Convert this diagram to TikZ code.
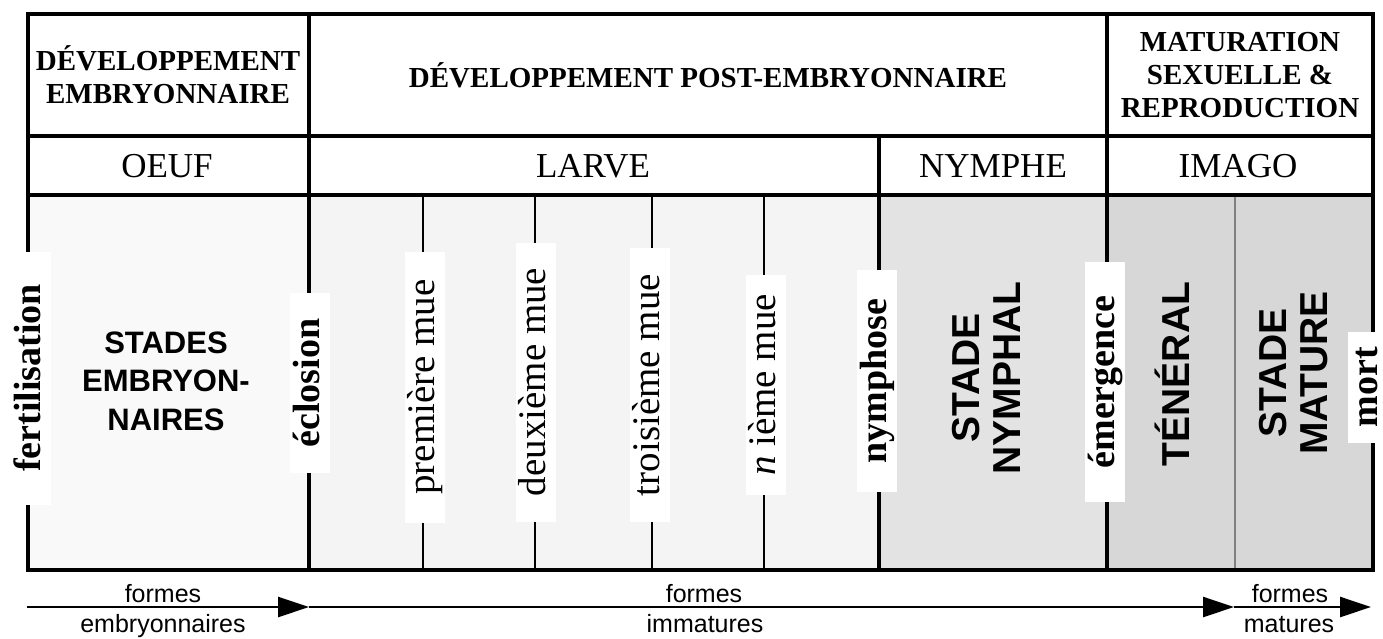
\documentclass[tikz,border=0pt]{standalone}
\usepackage{fontspec}
\setmainfont{Liberation Serif}
\setsansfont{Liberation Sans}
\usepackage{tikz}
\usetikzlibrary{arrows.meta}

\definecolor{oeufgray}{gray}{0.975}
\definecolor{larvegray}{gray}{0.955}
\definecolor{nymphgray}{gray}{0.89}
\definecolor{imagogray}{gray}{0.845}

\tikzset{
  tblline/.style={line width=4pt},
  moltline/.style={line width=2pt},
  header/.style={align=center, font=\bfseries\fontsize{29}{33}\selectfont},
  phasename/.style={font=\fontsize{35}{40}\selectfont},
  stagename/.style={align=center, font=\sffamily\bfseries\fontsize{39}{41}\selectfont},
  event/.style={fill=white, rotate=90, inner xsep=0pt, inner ysep=2pt, text height=27pt, text depth=9pt, font=\bfseries\fontsize{38}{40}\selectfont},
  moult/.style={event, font=\fontsize{39}{40}\selectfont},
  formes/.style={anchor=base, font=\sffamily\fontsize{25}{30}\selectfont},
  timeline/.style={line width=2.5pt, -{Triangle[length=31pt,width=20pt]}}
}

\begin{document}
\begin{tikzpicture}[x=1pt,y=-1pt]
    \useasboundingbox (0,0) rectangle (1383,638);
    \fill [oeufgray] (28,195) rectangle (309,570);
    \fill [larvegray] (309,195) rectangle (879,570);
    \fill [nymphgray] (879,195) rectangle (1107,570);
    \fill [imagogray] (1107,195) rectangle (1373,570);
    \draw [gray, line width=1.2pt] (1235,195) -- (1235,570);
    \foreach \x in {423,535,652,764}
        \draw [moltline] (\x,195) -- (\x,570);
    \draw [tblline] (28,14) rectangle (1373,570);
    \draw [tblline] (28,136) -- (1373,136);
    \draw [tblline] (28,195) -- (1373,195);
    \draw [tblline] (309,14) -- (309,570);
    \draw [tblline] (879,136) -- (879,570);
    \draw [tblline] (1107,14) -- (1107,570);

    \node [header] (embryo) at (168,75) {DÉVELOPPEMENT\\EMBRYONNAIRE};
    \node [header] (postembryo) at (708,75) {DÉVELOPPEMENT POST-EMBRYONNAIRE};
    \node [header] (maturation) at (1240,75) {MATURATION\\SEXUELLE \&\\REPRODUCTION};

    \node [phasename] (oeuf) at (167,166) {OEUF};
    \node [phasename] (larve) at (593,166) {LARVE};
    \node [phasename] (nymphe) at (993,166) {NYMPHE};
    \node [phasename] (imago) at (1238,166) {IMAGO};

    \node [stagename, font=\sffamily\bfseries\fontsize{31}{38.5}\selectfont] (embstages) at (166,381) {STADES\\EMBRYON-\\NAIRES};
    \node [stagename, rotate=90] (nymphal) at (986,378) {STADE\\NYMPHAL};
    \node [stagename, rotate=90] (teneral) at (1172,374) {TÉNÉRAL};
    \node [stagename, rotate=90] (mature) at (1294,373) {STADE\\MATURE};

    \node [event, minimum width=253pt] (fertil) at (31,378) {fertilisation};
    \node [event, minimum width=180pt] (eclos) at (310,383) {éclosion};
    \node [moult, minimum width=271pt] (mue1) at (425,387) {première mue};
    \node [moult, minimum width=279pt] (mue2) at (536,382) {deuxième mue};
    \node [moult, minimum width=274pt] (mue3) at (650,385) {troisième mue};
    \node [moult, minimum width=220pt] (muen) at (766,385) {\textit{n} ième mue};
    \node [event, minimum width=222pt] (nymphose) at (877,381) {nymphose};
    \node [event, minimum width=240pt] (emerg) at (1105,382) {émergence};
    \node [event, minimum width=111pt] (mort) at (1368,387) {mort};

    \coordinate (t0) at (27,607);
    \coordinate (t1) at (309,607);
    \coordinate (t2) at (1234,607);
    \coordinate (t3) at (1371,607);
    \draw [timeline] (t0) -- (t1);
    \draw [timeline] (t1) -- (t2);
    \draw [timeline] (t2) -- (t3);
    \node [formes] (embr1) at (163,602) {formes};
    \node [formes] (embr2) at (163,632) {embryonnaires};
    \node [formes] (imma1) at (704,602) {formes};
    \node [formes] (imma2) at (705,632) {immatures};
    \node [formes] (matu1) at (1290,602) {formes};
    \node [formes] (matu2) at (1289,632) {matures};
\end{tikzpicture}
\end{document}
